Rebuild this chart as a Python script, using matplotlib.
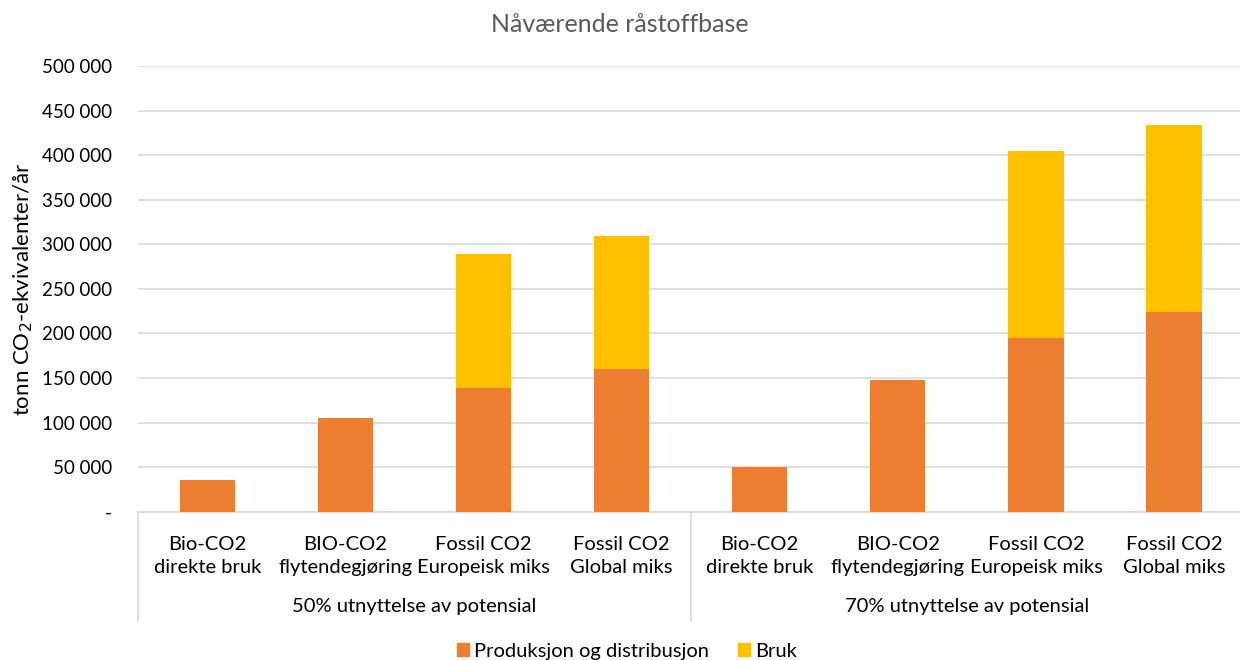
import matplotlib.pyplot as plt
from matplotlib.ticker import FuncFormatter
from matplotlib.patches import Patch

plt.rcParams['font.family'] = ['Lato', 'DejaVu Sans']

# Data (tonn CO2-ekv per year)
categories = ['Bio-CO2\ndirekte bruk', 'BIO-CO2\nflytendegjøring',
              'Fossil CO2\nEuropeisk miks', 'Fossil CO2\nGlobal miks'] * 2
groups = ['50% utnyttelse av potensial', '70% utnyttelse av potensial']
produksjon = [36000, 105000, 139000, 160000, 50500, 148000, 195000, 224000]
bruk = [0, 0, 150000, 149000, 0, 0, 210000, 210000]

orange = '#ED7D31'
yellow = '#FFC000'
grey_text = '#595959'
grid_col = '#d9d9d9'

fig = plt.figure(figsize=(12.4, 6.6), dpi=100)
ax = fig.add_axes([0.1115, 0.2245, 0.891, 0.6755])

x = list(range(len(categories)))
ax.bar(x, produksjon, width=0.4, color=orange, zorder=3)
ax.bar(x, bruk, width=0.4, bottom=produksjon, color=yellow, zorder=3)

ax.set_xlim(-0.5, len(categories) - 0.5)
ax.set_ylim(0, 500000)
ax.set_yticks(range(0, 500001, 50000))
ax.yaxis.set_major_formatter(FuncFormatter(
    lambda v, p: '-' if v == 0 else f'{int(v):,}'.replace(',', ' ')))
ax.tick_params(axis='y', length=0, labelsize=13.5, pad=19, colors='black')
ax.set_xticks([])
ax.grid(axis='y', color=grid_col, linewidth=1.2, zorder=0)
for s in ['top', 'right', 'left']:
    ax.spines[s].set_visible(False)
ax.spines['bottom'].set_color(grid_col)
ax.spines['bottom'].set_linewidth(1.2)

ax.set_ylabel('tonn CO$_2$-ekvivalenter/år', fontsize=16)
ax.yaxis.set_label_coords(-0.0935, 0.5)
fig.text(0.5, 1 - 25 / 660, 'Nåværende råstoffbase', fontsize=18,
         color=grey_text, ha='center', va='center')

# hierarchical category axis
trans = ax.get_xaxis_transform()
for i, lab in enumerate(categories):
    ax.text(i, -0.0985, lab, transform=trans, ha='center', va='center',
            fontsize=14.5, linespacing=1.4)
for g, lab in enumerate(groups):
    ax.text(g * 4 + 1.5, -0.213, lab, transform=trans, ha='center',
            va='center', fontsize=14.5)
for xs in [-0.5, 3.5, 7.5]:
    ax.plot([xs, xs], [0, -0.245], transform=trans, color=grid_col,
            linewidth=1.2, clip_on=False)

handles = [Patch(color=orange, label='Produksjon og distribusjon'),
           Patch(color=yellow, label='Bruk')]
fig.legend(handles=handles, loc='center', bbox_to_anchor=(0.5056, 0.0136),
           ncol=2, frameon=False, fontsize=14.5, handlelength=0.6,
           handleheight=0.6, handletextpad=0.25, columnspacing=1.45,
           borderpad=0)

fig.savefig('out.png', dpi=100)
